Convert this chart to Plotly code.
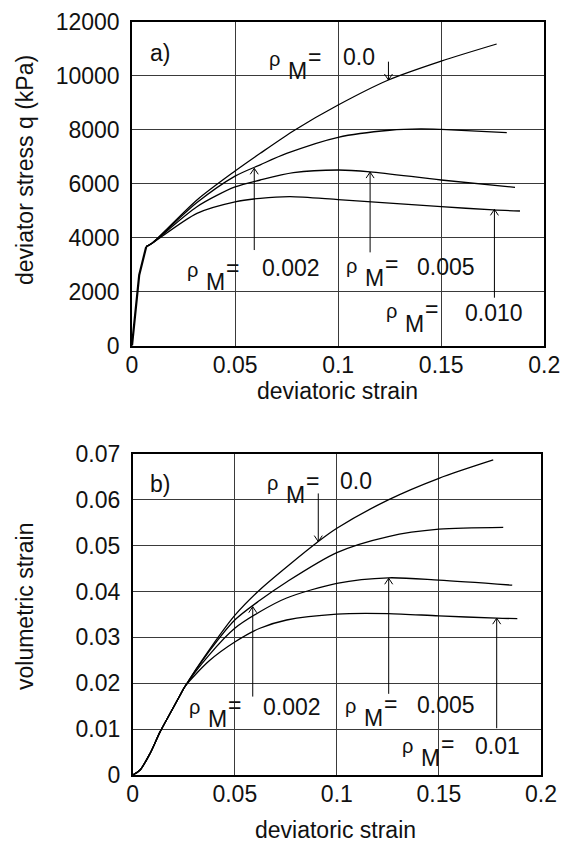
import plotly.graph_objects as go

W, H = 565, 849

# ---------------- data : panel a) deviator stress ----------------
strain_init_a = [0.0, 0.0035, 0.0069]
q_init_a = [0, 2620, 3667]

strain_a_00 = [0.0069, 0.0097, 0.0315, 0.05, 0.0622, 0.0792, 0.1, 0.1244, 0.15, 0.1769]
q_a_00 = [3667, 3793, 5396, 6470, 7126, 8000, 8915, 9841, 10540, 11174]
strain_a_002 = [0.0069, 0.0097, 0.0315, 0.05, 0.0622, 0.075, 0.1, 0.125, 0.14, 0.15, 0.1818]
q_a_002 = [3667, 3793, 5300, 6280, 6700, 7120, 7720, 7980, 8030, 8010, 7889]
strain_a_005 = [0.0069, 0.0097, 0.0315, 0.05, 0.0622, 0.0783, 0.1, 0.1155, 0.15, 0.1858]
q_a_005 = [3667, 3793, 5148, 5880, 6137, 6407, 6507, 6440, 6137, 5867]
strain_a_010 = [0.0069, 0.0097, 0.0315, 0.05, 0.0622, 0.0767, 0.1, 0.125, 0.15, 0.1753, 0.1882]
q_a_010 = [3667, 3793, 4904, 5330, 5459, 5519, 5410, 5280, 5148, 5030, 4988]

# arrows panel a (x, tail, tip)
arrow_a_x = [0.1244, 0.0593, 0.1155, 0.1758]
arrow_a_tail = [10520, 3543, 3457, 1778]
arrow_a_tip = [9840, 6570, 6430, 5049]

# ---------------- data : panel b) volumetric strain ----------------
strain_b_00 = [0, 0.0036, 0.0085, 0.0134, 0.0183, 0.0232, 0.0256, 0.0375, 0.05, 0.0623, 0.0909, 0.1, 0.1252, 0.15, 0.1766]
vol_b_00 = [0, 0.0011, 0.0047, 0.0094, 0.0134, 0.0174, 0.0193, 0.0273, 0.0348, 0.0404, 0.0509, 0.0538, 0.060, 0.0647, 0.0687]
strain_b_002 = [0, 0.0036, 0.0085, 0.0134, 0.0183, 0.0232, 0.0256, 0.0375, 0.05, 0.0623, 0.0754, 0.1, 0.1252, 0.15, 0.1815]
vol_b_002 = [0, 0.0011, 0.0047, 0.0094, 0.0134, 0.0174, 0.0193, 0.0270, 0.0338, 0.0381, 0.0421, 0.0485, 0.0520, 0.0536, 0.0540]
strain_b_005 = [0, 0.0036, 0.0085, 0.0134, 0.0183, 0.0232, 0.0256, 0.0375, 0.05, 0.0623, 0.0754, 0.1, 0.1252, 0.15, 0.1859]
vol_b_005 = [0, 0.0011, 0.0047, 0.0094, 0.0134, 0.0174, 0.0193, 0.0262, 0.0320, 0.0356, 0.0386, 0.0418, 0.0430, 0.0425, 0.0414]
strain_b_01 = [0, 0.0036, 0.0085, 0.0134, 0.0183, 0.0232, 0.0256, 0.0375, 0.05, 0.0623, 0.0754, 0.1, 0.1252, 0.15, 0.1783, 0.1884]
vol_b_01 = [0, 0.0011, 0.0047, 0.0094, 0.0134, 0.0174, 0.0193, 0.0249, 0.0290, 0.0320, 0.0338, 0.0351, 0.0352, 0.0347, 0.0342, 0.0341]

arrow_b_x = [0.0909, 0.0588, 0.1254, 0.1783]
arrow_b_tail = [0.0614, 0.0171, 0.0177, 0.0102]
arrow_b_tip = [0.0509, 0.0367, 0.0429, 0.0342]

# tick labels
x_tickvals = [0, 0.05, 0.1, 0.15, 0.2]
x_ticktext = ["0", "0.05", "0.1", "0.15", "0.2"]
ya_tickvals = [0, 2000, 4000, 6000, 8000, 10000, 12000]
ya_ticktext = ["0", "2000", "4000", "6000", "8000", "10000", "12000"]
yb_tickvals = [0, 0.01, 0.02, 0.03, 0.04, 0.05, 0.06, 0.07]
yb_ticktext = ["0", "0.01", "0.02", "0.03", "0.04", "0.05", "0.06", "0.07"]

# label texts
labels_a = ["0.0", "0.002", "0.005", "0.010"]
labels_b = ["0.0", "0.002", "0.005", "0.01"]

# ---------------- layout geometry (pixels) ----------------
FONT = "Liberation Sans, Arial, sans-serif"
TXT = "#111111"
FS = 23

A_L, A_R, A_T, A_B = 132.0, 544.3, 21.7, 345.7
B_L, B_R, B_T, B_B = 132.7, 541.0, 454.0, 775.0

def xdom(l, r):
    return [l / W, r / W]

def ydom(t, b):
    return [1 - b / H, 1 - t / H]

fig = go.Figure()

curve_line = dict(color="black", width=1.3, shape="spline", smoothing=0.8)

# panel a
fig.add_trace(go.Scatter(x=strain_init_a, y=q_init_a, mode="lines",
                         line=dict(color="black", width=2.2), xaxis="x", yaxis="y", showlegend=False))
for sx, sy in [(strain_a_00, q_a_00), (strain_a_002, q_a_002), (strain_a_005, q_a_005), (strain_a_010, q_a_010)]:
    fig.add_trace(go.Scatter(x=sx, y=sy, mode="lines", line=curve_line,
                             xaxis="x", yaxis="y", showlegend=False))
# panel b
for sx, sy in [(strain_b_00, vol_b_00), (strain_b_002, vol_b_002), (strain_b_005, vol_b_005), (strain_b_01, vol_b_01)]:
    fig.add_trace(go.Scatter(x=sx, y=sy, mode="lines", line=curve_line,
                             xaxis="x2", yaxis="y2", showlegend=False))

# arrows (stem + open chevron head)
def arrow_trace(xs, tails, tips, xscale, yscale, xa, ya):
    hw, hh = 4.0, 6.0  # head half width and length in px
    X, Y = [], []
    for x, t0, t1 in zip(xs, tails, tips):
        s = 1 if t1 > t0 else -1
        X += [x, x, None, x - hw / xscale, x, x + hw / xscale, None]
        Y += [t0, t1, None, t1 - s * hh / yscale, t1, t1 - s * hh / yscale, None]
    return go.Scatter(x=X, y=Y, mode="lines", line=dict(color="black", width=1),
                      xaxis=xa, yaxis=ya, showlegend=False)

xs_a = (A_R - A_L) / 0.2
ys_a = (A_B - A_T) / 12000
xs_b = (B_R - B_L) / 0.2
ys_b = (B_B - B_T) / 0.07
fig.add_trace(arrow_trace(arrow_a_x, arrow_a_tail, arrow_a_tip, xs_a, ys_a, "x", "y"))
fig.add_trace(arrow_trace(arrow_b_x, arrow_b_tail, arrow_b_tip, xs_b, ys_b, "x2", "y2"))

axis_common = dict(showgrid=True, gridcolor="#3a3a3a", gridwidth=1, zeroline=False,
                   showline=True, linecolor="black", linewidth=1.6, mirror=True,
                   ticks="", automargin=False,
                   tickfont=dict(family=FONT, size=FS, color=TXT))

fig.update_layout(
    width=W, height=H, margin=dict(l=0, r=0, t=0, b=0),
    paper_bgcolor="white", plot_bgcolor="white",
    xaxis=dict(domain=xdom(A_L, A_R), range=[0, 0.2], tickvals=x_tickvals, ticktext=x_ticktext,
               anchor="y", ticklabelstandoff=-2, **axis_common),
    yaxis=dict(domain=ydom(A_T, A_B), range=[0, 12000], tickvals=ya_tickvals, ticktext=ya_ticktext,
               anchor="x", ticklabelstandoff=6, **axis_common),
    xaxis2=dict(domain=xdom(B_L, B_R), range=[0, 0.2], tickvals=x_tickvals, ticktext=x_ticktext,
                anchor="y2", ticklabelstandoff=-2, **axis_common),
    yaxis2=dict(domain=ydom(B_T, B_B), range=[0, 0.07], tickvals=yb_tickvals, ticktext=yb_ticktext,
                anchor="x2", ticklabelstandoff=6, **axis_common),
)

def txt(px, py, text, size=FS, xanchor="left", angle=0):
    fig.add_annotation(x=px / W, y=1 - py / H, xref="paper", yref="paper", text=text,
                       showarrow=False, xanchor=xanchor, yanchor="middle", textangle=angle,
                       font=dict(family=FONT, size=size, color=TXT), borderpad=0)

# axis titles
txt(25, 170, "deviator stress q (kPa)", xanchor="center", angle=-90)
txt(25, 607, "volumetric strain", xanchor="center", angle=-90)
txt(337, 391, "deviatoric strain", xanchor="center")
txt(335, 830, "deviatoric strain", xanchor="center")

# panel labels
txt(149, 53, "a)")
txt(149, 484, "b)")

# rho_M labels: (rho left, rho center, value left, value center)
pos_a = [(270, 58.5, 343, 56.5), (188, 270, 262, 268), (347, 265.5, 417, 266.5), (387, 311.5, 465, 313.5)]
pos_b = [(268, 482.5, 340, 481), (190, 706.5, 263, 707), (346, 705.5, 417, 705), (403, 745.5, 475, 746)]

def rho_label(p, value):
    rx, ry, vx, vy = p
    txt(rx - 2, ry, "ρ", size=20)
    txt(rx + 17, ry + 12, "M", size=FS)
    txt(rx + 37, ry - 2, "=", size=FS)
    txt(vx - 1, vy, value, size=FS)

for p, v in zip(pos_a, labels_a):
    rho_label(p, v)
for p, v in zip(pos_b, labels_b):
    rho_label(p, v)

fig.write_html("out.html", config={"displayModeBar": False},
               post_script="document.body.style.margin='0px';")
